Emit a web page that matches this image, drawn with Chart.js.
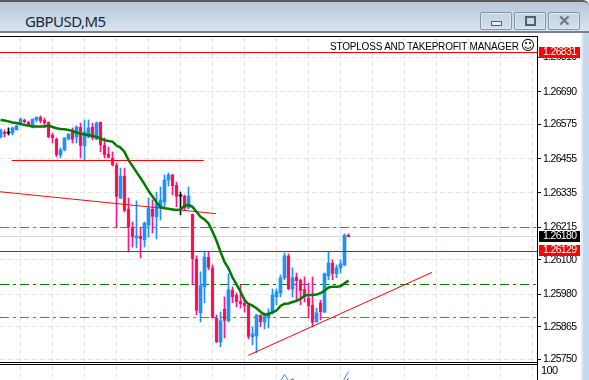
<!DOCTYPE html>
<html>
<head>
<meta charset="utf-8">
<title>GBPUSD,M5</title>
<script src="https://cdn.jsdelivr.net/npm/chart.js@4"></script>
<style>
  html, body { margin: 0; padding: 0; background: #fff; }
  #win { position: relative; width: 589px; height: 380px; overflow: hidden; background: #fff; }
  #titlebar {
    position: absolute; left: 0; top: 0; width: 589px; height: 29px;
    background: linear-gradient(#b7c7d7, #d7e5f2);
    border-top: 2px solid #5c5c5c; border-bottom: 2px solid #808080; border-top-right-radius: 6px;
  }
  #title { position: absolute; left: 25px; top: 9px; font: 15px "Noto Sans", sans-serif; letter-spacing: -0.55px; color: #1c2733; line-height: 20px; }
  .btn {
    position: absolute; top: 10px; height: 16px; border: 1px solid #8494a8; border-radius: 2px;
    background: linear-gradient(#c3d2e0, #d3e0ec); box-shadow: inset 0 0 0 1px #dfe9f2;
  }
  .btn i { position: absolute; display: block; box-sizing: border-box; }
  #strip { position: absolute; left: 581px; top: 33px; width: 8px; height: 347px; background: linear-gradient(90deg, #e4ecf3 0, #e4ecf3 2px, #c6daef 2px); }
  canvas { position: absolute; left: 0; }
  #main { top: 0; }
  #sub { top: 365px; }
  #manager { position: absolute; left: 330px; top: 39px; font: 10px "Liberation Sans", sans-serif; letter-spacing: -0.2px; color: #000; white-space: nowrap; line-height: 13px; }
  #manager span { font: 14px "DejaVu Sans", sans-serif; line-height: 13px; margin-left: 2px; }
</style>
</head>
<body>
<div id="win">
  <div id="titlebar">
    <div id="title">GBPUSD,M5</div>
    <div class="btn" style="left:480px;width:30px"><i style="left:10px;top:8px;width:11px;height:5px;border:1px solid #55606e;background:#e8eef4"></i></div>
    <div class="btn" style="left:514px;width:30px"><i style="left:10px;top:3px;width:11px;height:10px;border:2px solid #55606e"></i></div>
    <div class="btn" style="left:548px;width:30px"><i style="left:9px;top:0;width:12px;height:16px;font:bold 15px/16px 'Liberation Sans';color:#6c7886;font-style:normal">✕</i></div>
  </div>
  <div id="strip"></div>
  <canvas id="main" width="582" height="380"></canvas>
  <canvas id="sub" width="582" height="66"></canvas>
  <div id="manager">STOPLOSS AND TAKEPROFIT MANAGER<span>☺</span></div>
</div>
<script>
// candles from index 0, one every 4px
const opens = [1.26531,1.26549,1.26545,1.26545,1.26556,1.26577,1.26591,1.26584,1.26566,1.26591,1.26601,1.26591,1.26584,1.26538,1.26524,1.26468,1.26486,1.26524,1.26552,1.26531,1.26566,1.26500,1.26531,1.26566,1.26524,1.26584,1.26503,1.26472,1.26458,1.26433,
  1.26317,1.26394,1.26279,1.26215,1.26177,1.26184,1.26170,1.26222,1.26279,1.26251,1.26282,1.26303,1.26380,1.26398,1.26363,1.26324,1.26324,1.26282,1.26261,1.26103,1.25914,1.26005,1.26110,1.26072,1.25896,1.25812,1.25928,1.25886,1.25995,1.25977,
  1.25956,1.25949,1.25942,1.25830,1.25833,1.25907,1.25882,1.25896,1.25914,1.25970,1.25984,1.26037,1.26114,1.25998,1.26040,1.26030,1.25998,1.25967,1.25942,1.25882,1.25949,1.25917,1.26044,1.26089,1.26051,1.26072,1.26082,1.26187];
const highs = [1.26559,1.26556,1.26563,1.26566,1.26573,1.26598,1.26594,1.26587,1.26594,1.26601,1.26605,1.26598,1.26584,1.26545,1.26528,1.26493,1.26528,1.26542,1.26563,1.26570,1.26580,1.26591,1.26591,1.26580,1.26584,1.26584,1.26528,1.26496,1.26479,1.26440,
  1.26422,1.26422,1.26317,1.26233,1.26307,1.26215,1.26233,1.26317,1.26310,1.26338,1.26356,1.26398,1.26405,1.26401,1.26373,1.26338,1.26328,1.26356,1.26261,1.26114,1.26058,1.26131,1.26128,1.26082,1.25907,1.25917,1.25970,1.26051,1.26005,1.25984,
  1.26012,1.25967,1.25942,1.25865,1.25907,1.25907,1.25914,1.25928,1.25998,1.25998,1.26047,1.26124,1.26121,1.26072,1.26054,1.26033,1.26040,1.26019,1.26040,1.25931,1.25959,1.26054,1.26128,1.26100,1.26082,1.26100,1.26191,1.26191];
const lows = [1.26528,1.26531,1.26538,1.26538,1.26556,1.26573,1.26580,1.26570,1.26563,1.26584,1.26580,1.26566,1.26528,1.26510,1.26461,1.26458,1.26482,1.26521,1.26510,1.26510,1.26458,1.26450,1.26528,1.26521,1.26521,1.26479,1.26458,1.26458,1.26429,1.26212,
  1.26314,1.26268,1.26128,1.26145,1.26142,1.26107,1.26145,1.26180,1.26194,1.26173,1.26240,1.26286,1.26359,1.26328,1.26286,1.26258,1.26275,1.26279,1.26012,1.25907,1.25882,1.25949,1.26065,1.25896,1.25809,1.25795,1.25826,1.25882,1.25949,1.25935,
  1.25931,1.25917,1.25823,1.25802,1.25774,1.25865,1.25858,1.25861,1.25910,1.25942,1.25970,1.26030,1.25995,1.25970,1.25959,1.25942,1.25952,1.25896,1.25865,1.25882,1.25889,1.25914,1.26030,1.26030,1.26037,1.26054,1.26079,1.26180];
const closes = [1.26556,1.26542,1.26545,1.26563,1.26570,1.26594,1.26584,1.26573,1.26594,1.26601,1.26587,1.26580,1.26531,1.26528,1.26468,1.26486,1.26528,1.26542,1.26521,1.26566,1.26500,1.26549,1.26563,1.26528,1.26580,1.26503,1.26468,1.26458,1.26433,1.26321,
  1.26394,1.26272,1.26215,1.26180,1.26184,1.26173,1.26229,1.26282,1.26251,1.26296,1.26310,1.26380,1.26398,1.26359,1.26321,1.26324,1.26282,1.26324,1.26103,1.25921,1.26009,1.26110,1.26072,1.25896,1.25812,1.25886,1.25886,1.25995,1.25970,1.25952,
  1.25945,1.25938,1.25830,1.25840,1.25907,1.25882,1.25900,1.25914,1.25977,1.25988,1.26037,1.26114,1.25998,1.26037,1.26026,1.25991,1.25970,1.25938,1.25879,1.25914,1.25917,1.26051,1.26089,1.26051,1.26072,1.26086,1.26187,1.26180];
const maValues = [1.26591,1.26589,1.26586,1.26582,1.26580,1.26577,1.26573,1.26571,1.26568,1.26568,1.26568,1.26568,1.26571,1.26566,1.26562,1.26559,1.26558,1.26556,1.26552,1.26547,1.26543,1.26540,1.26538,1.26535,1.26531,1.26526,1.26520,1.26517,1.26515,1.26501,
  1.26494,1.26479,1.26450,1.26429,1.26408,1.26387,1.26366,1.26342,1.26322,1.26302,1.26285,1.26281,1.26279,1.26277,1.26275,1.26277,1.26289,1.26293,1.26286,1.26269,1.26251,1.26242,1.26228,1.26199,1.26167,1.26128,1.26093,1.26070,1.26038,1.26014,
  1.25988,1.25959,1.25945,1.25939,1.25930,1.25918,1.25907,1.25910,1.25916,1.25922,1.25938,1.25946,1.25947,1.25952,1.25956,1.25963,1.25974,1.25977,1.25977,1.25978,1.25983,1.25992,1.26003,1.26006,1.26006,1.26007,1.26018,1.26027];

const priceTicks = [1.26810,1.26690,1.26575,1.26455,1.26335,1.26215,1.26100,1.25980,1.25865,1.25750];
const redLevels = [1.268276,1.261293];
const stopLevels = [1.262135,1.258977];
const greenLevel = 1.260135;
const bidLevel = 1.261819;
const tags = [['1.26831',1.26829,'#ff0000'],['1.26180',1.26184,'#000000'],['1.26129',1.26133,'#ff0000']];
// trend lines as [index, price] pairs
const shortLine = [[2.875,1.264486],[50.8,1.264486]];
const upperTrend = [[-0.125,1.26339],[53.875,1.26262]];
const lowerTrend = [[61.95,1.25765],[107.875,1.26056]];
const stochBlue = [[69,70],[70,84],[71,94],[72,84],[73,70],null,[85,70],[86,88],[87,99]];
const stochRed = [[71,70],[72,82],[73,87],[74,80],[75,70],null,[85,70],[86,80],[87,88]];

const xMin = -0.125, xMax = 134.125;
const gridTicks = [];
for (let k = 5; k < xMax; k += 8) gridTicks.push(k);

const UP = '#1e90ff', DOWN = '#f5103c', WICK_DOWN = '#ff1493';
const labelFont = { family: '"Liberation Sans", sans-serif', size: 10.5 };

const dir = i => closes[i] > opens[i] ? 1 : closes[i] < opens[i] ? -1 : 0;
const idx = opens.map((_, i) => i);
const pts = a => a.map(p => p ? { x: p[0], y: p[1] } : { x: null, y: null });
const hline = (v, a, b) => [{ x: a, y: v }, { x: b, y: v }];
const lineSet = (data, color, width, order, dash) => ({
  type: 'line', data, borderColor: color, borderWidth: width, order, borderDash: dash || [],
  pointRadius: 0, tension: 0, fill: false
});

// labels in the reference are narrower than Liberation Sans
const tightText = {
  id: 'tightText',
  beforeDraw(chart) { chart.ctx.letterSpacing = '-0.65px'; }
};

const frame = {
  id: 'frame',
  afterDraw(chart) {
    const { ctx, chartArea: a, scales } = chart;
    ctx.save();
    ctx.fillStyle = '#000';
    ctx.fillRect(0, a.top - 1, a.right, 1);
    ctx.fillRect(a.right, a.top - 1, 1, 380);
    ctx.fillRect(0, a.bottom - 1, a.right, 1);
    ctx.fillRect(0, a.bottom + 1, a.right, 1);
    ctx.textBaseline = 'middle';
    ctx.font = labelFont.size + 'px ' + labelFont.family;
    tags.forEach(([text, v, color]) => {
      const y = Math.round(scales.y.getPixelForValue(v));
      ctx.fillStyle = color;
      ctx.fillRect(539, y - 5, 41, 11);
      ctx.fillStyle = '#fff';
      ctx.fillText(text, 543, y + 0.5);
    });
    ctx.restore();
  }
};

new Chart(document.getElementById('main'), {
  type: 'bar',
  data: {
    datasets: [
      lineSet(maValues.map((v, i) => ({ x: i, y: v })), '#007b00', 2.5, 1),
      lineSet(hline(redLevels[0], xMin, xMax), '#ff0000', 1, 2),
      lineSet(hline(redLevels[1], xMin, xMax), '#e80000', 1, 2),
      lineSet(pts(shortLine), '#ff0000', 1, 2),
      lineSet(pts(upperTrend), '#ee1111', 1, 2),
      lineSet(pts(lowerTrend), '#ff0000', 1, 2),
      {
        label: 'bodies', order: 3, grouped: false, barThickness: 3, minBarLength: 1,
        data: idx.map(i => ({ x: i, y: [opens[i], closes[i]] })),
        backgroundColor: idx.map(i => dir(i) > 0 ? UP : dir(i) < 0 ? DOWN : '#000'),
        borderColor: idx.map(i => dir(i) < 0 ? WICK_DOWN : 'transparent'),
        borderWidth: idx.map(i => dir(i) < 0 ? { left: 1, right: 1, top: 0, bottom: 0 } : 0),
        borderSkipped: false
      },
      {
        label: 'wicks', order: 4, grouped: false, barThickness: 1,
        data: idx.map(i => ({ x: i, y: [lows[i], highs[i]] })),
        backgroundColor: idx.map(i => dir(i) > 0 ? UP : dir(i) < 0 ? WICK_DOWN : '#000')
      },
      lineSet(hline(stopLevels[0], xMin, xMax), '#ff4500', 1, 5, [9, 4, 3, 4]),
      lineSet(hline(stopLevels[1], xMin, xMax), '#ff4500', 1, 5, [9, 4, 3, 4]),
      lineSet(hline(greenLevel, xMin, xMax), '#008000', 1, 5, [9, 4, 3, 4]),
      lineSet(hline(bidLevel, xMin, xMax), '#d8d8d8', 1, 6)
    ]
  },
  options: {
    responsive: false, animation: false, events: [],
    layout: { padding: { top: 37, bottom: 17, left: 0, right: 0 } },
    plugins: { legend: { display: false }, tooltip: { enabled: false } },
    scales: {
      x: {
        type: 'linear', min: xMin, max: xMax, offset: false,
        afterBuildTicks: s => { s.ticks = gridTicks.map(value => ({ value })); },
        ticks: { display: false },
        grid: { color: '#e4e4e4', drawTicks: false, offset: false },
        border: { display: false, dash: [5, 3] }
      },
      y: {
        position: 'right', min: 1.25738, max: 1.26882,
        afterBuildTicks: s => { s.ticks = priceTicks.map(value => ({ value })); },
        afterFit: s => { s.width = 45; },
        ticks: { color: '#000', font: labelFont, padding: 2, autoSkip: false, maxRotation: 0, callback: v => v.toFixed(5) },
        grid: { color: '#e4e4e4', tickColor: '#000', tickLength: 4 },
        border: { display: false, dash: [5, 3] }
      }
    }
  },
  plugins: [tightText, frame]
});

new Chart(document.getElementById('sub'), {
  type: 'line',
  data: {
    datasets: [
      lineSet(pts(stochRed), '#ff0000', 1, 1),
      lineSet(pts(stochBlue), '#1e90ff', 1, 2)
    ]
  },
  options: {
    responsive: false, animation: false, events: [],
    plugins: { legend: { display: false }, tooltip: { enabled: false } },
    scales: {
      x: {
        type: 'linear', min: xMin, max: xMax,
        afterBuildTicks: s => { s.ticks = gridTicks.map(value => ({ value })); },
        ticks: { display: false },
        grid: { color: '#e4e4e4', drawTicks: false, offset: false },
        border: { display: false, dash: [5, 3] }
      },
      y: {
        position: 'right', min: 0, max: 110,
        afterBuildTicks: s => { s.ticks = [{ value: 100 }]; },
        afterFit: s => { s.width = 45; s.paddingTop = 0; s.paddingBottom = 0; },
        ticks: { color: '#000', font: { family: labelFont.family, size: 11 }, padding: 4 },
        grid: { drawOnChartArea: false, drawTicks: false },
        border: { display: false }
      }
    }
  },
  plugins: [tightText]
});
</script>
</body>
</html>
